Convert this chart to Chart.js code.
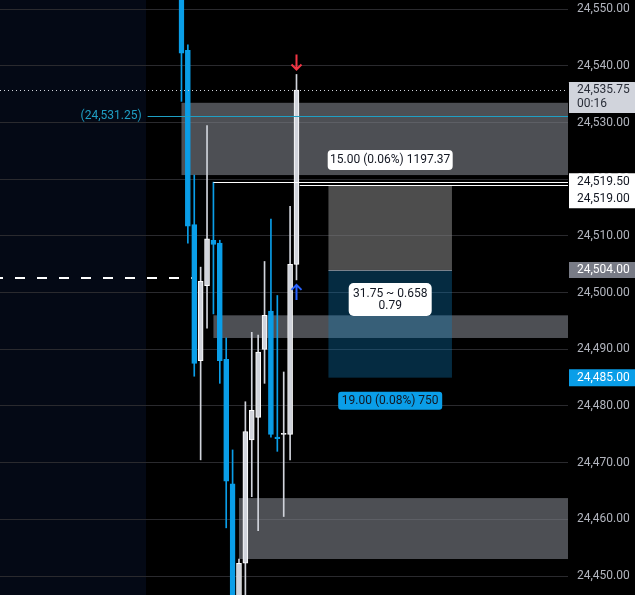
<!DOCTYPE html>
<html>
<head>
<meta charset="utf-8">
<script src="https://cdn.jsdelivr.net/npm/chart.js@4.4.0/dist/chart.umd.min.js"></script>
<style>
html, body { margin: 0; padding: 0; background: #000; }
canvas { display: block; }
</style>
</head>
<body>
<canvas id="myChart" width="635" height="595"></canvas>
<script>
// Candles (bar index 0 = first bar on screen)
var barIndex = [0, 1, 2, 3, 4, 5, 6, 7, 8, 9, 10, 11, 12, 13, 14, 15, 16, 17, 18];
var opens  = [24557, 24542.75, 24512, 24488, 24501.25, 24509.25, 24508.75, 24488.25, 24466.25, 24441, 24452.25, 24474, 24478, 24490, 24496.75, 24474.5, 24475, 24475, 24505];
var highs  = [24560, 24543.75, 24520.75, 24504.5, 24529.5, 24519.5, 24509.25, 24492, 24472.25, 24453, 24480.75, 24493, 24492.5, 24505.5, 24513, 24499.5, 24486, 24515.25, 24538.5];
var lows   = [24533.75, 24508.75, 24485.25, 24470.5, 24493.75, 24496.25, 24484, 24458.5, 24438, 24438, 24445, 24464, 24458, 24484, 24474.5, 24472, 24460.5, 24470.5, 24502.25];
var closes = [24542.25, 24511.75, 24487.5, 24502, 24509.5, 24508.5, 24488, 24466.75, 24440, 24452.25, 24475.5, 24479.25, 24489.5, 24496, 24475, 24474.25, 24475, 24505, 24535.75];

// price axis
var yTicksStep = 10;

// supply / demand zones
var zoneTops    = [24533.5, 24496, 24463.75];
var zoneBottoms = [24520.75, 24492, 24453];
var zoneStarts  = [0, 5, 9];

// short position tool
var stopPrice = 24519;
var entryPrice = 24504;
var targetPrice = 24485;
var positionFrom = 23;
var positionTo = 42.33;
var positionLabels = ['15.00 (0.06%) 1197.37', '31.75 ~ 0.658', '0.79', '19.00 (0.08%) 750'];

// horizontal lines
var lastPrice = 24535.75;
var barTimer = '00:16';
var markedPrice = 24531.25;
var markedFrom = -5.3;
var highRayPrice = 24519.5;
var highRayFrom = 5;
var lowRayPrice = 24519;
var lowRayFrom = 18.5;
var dashedPrice = 24502.5;
var dashedTo = 1.6;
var sessionEnd = -5.55;
var signalBar = 18;

var BLUE = '#0a9ee8';
var WHITE_BODY = '#d1d4dc';

function fmt(v) {
    return v.toLocaleString('en-US', { minimumFractionDigits: 2, maximumFractionDigits: 2 });
}

var bodies = [], wicks = [], bodyFill = [], bodyEdge = [], wickColor = [];
for (var i = 0; i < barIndex.length; i++) {
    var up = closes[i] >= opens[i];
    bodies.push({ x: barIndex[i], y: [opens[i], closes[i]] });
    wicks.push({ x: barIndex[i], y: [lows[i], highs[i]] });
    bodyFill.push(up ? WHITE_BODY : BLUE);
    bodyEdge.push(up ? '#ffffff' : BLUE);
    wickColor.push(up ? WHITE_BODY : BLUE);
}

function tag(ctx, x, y, w, h, r, bg) {
    ctx.fillStyle = bg;
    ctx.beginPath();
    ctx.moveTo(x + r, y);
    ctx.arcTo(x + w, y, x + w, y + h, r);
    ctx.arcTo(x + w, y + h, x, y + h, r);
    ctx.arcTo(x, y + h, x, y, r);
    ctx.arcTo(x, y, x + w, y, r);
    ctx.closePath();
    ctx.fill();
}

function hline(ctx, x1, x2, y, color, width, dash, offset) {
    ctx.save();
    ctx.strokeStyle = color;
    ctx.lineWidth = width;
    ctx.setLineDash(dash || []);
    ctx.lineDashOffset = offset || 0;
    var yy = width % 2 ? Math.round(y) + 0.5 : Math.round(y);
    ctx.beginPath();
    ctx.moveTo(x1, yy);
    ctx.lineTo(x2, yy);
    ctx.stroke();
    ctx.restore();
}

function arrow(ctx, x, tip, dir, color) {
    ctx.save();
    ctx.strokeStyle = color;
    ctx.lineWidth = 2;
    ctx.beginPath();
    ctx.moveTo(x, tip - dir * 15);
    ctx.lineTo(x, tip);
    ctx.moveTo(x - 5, tip - dir * 5);
    ctx.lineTo(x, tip);
    ctx.lineTo(x + 5, tip - dir * 5);
    ctx.stroke();
    ctx.restore();
}

var overlay = {
    id: 'overlay',
    beforeDraw: function (chart) {
        var ctx = chart.ctx, a = chart.chartArea, xs = chart.scales.x;
        ctx.save();
        ctx.fillStyle = '#000000';
        ctx.fillRect(0, 0, chart.width, chart.height);
        ctx.fillStyle = '#040915';
        ctx.fillRect(a.left, a.top, xs.getPixelForValue(sessionEnd) - a.left, a.bottom - a.top);
        ctx.restore();
    },
    beforeDatasetsDraw: function (chart) {
        var ctx = chart.ctx, a = chart.chartArea, xs = chart.scales.x, ys = chart.scales.y;
        ctx.save();
        ctx.beginPath();
        ctx.rect(a.left, a.top, a.right - a.left, a.bottom - a.top);
        ctx.clip();
        // zones
        ctx.fillStyle = 'rgba(125,127,135,0.62)';
        for (var i = 0; i < zoneTops.length; i++) {
            var x0 = xs.getPixelForValue(zoneStarts[i]);
            var t = ys.getPixelForValue(zoneTops[i]), b = ys.getPixelForValue(zoneBottoms[i]);
            ctx.fillRect(x0, t, a.right - x0, b - t);
        }
        // position box
        var p0 = xs.getPixelForValue(positionFrom), p1 = xs.getPixelForValue(positionTo);
        var yS = ys.getPixelForValue(stopPrice), yE = ys.getPixelForValue(entryPrice), yT = ys.getPixelForValue(targetPrice);
        ctx.fillStyle = 'rgba(128,128,128,0.6)';
        ctx.fillRect(p0, yS, p1 - p0, yE - yS);
        ctx.fillStyle = 'rgba(15,125,190,0.34)';
        ctx.fillRect(p0, yE, p1 - p0, yT - yE);
        hline(ctx, p0, p1, yE, 'rgba(150,152,160,0.8)', 1);
        ctx.restore();
    },
    afterDatasetsDraw: function (chart) {
        var ctx = chart.ctx, a = chart.chartArea, xs = chart.scales.x, ys = chart.scales.y;
        hline(ctx, a.left, a.right, ys.getPixelForValue(lastPrice), '#d1d4dc', 1, [1, 3]);
        hline(ctx, xs.getPixelForValue(markedFrom), a.right, ys.getPixelForValue(markedPrice), '#1f9fc4', 1);
        hline(ctx, xs.getPixelForValue(highRayFrom), a.right, ys.getPixelForValue(highRayPrice), '#ffffff', 1);
        hline(ctx, xs.getPixelForValue(lowRayFrom), a.right, ys.getPixelForValue(lowRayPrice), '#ffffff', 1);
        hline(ctx, a.left, xs.getPixelForValue(dashedTo), ys.getPixelForValue(dashedPrice), '#ffffff', 2, [10, 12], 7);
    },
    afterDraw: function (chart) {
        var ctx = chart.ctx, a = chart.chartArea, xs = chart.scales.x, ys = chart.scales.y;
        ctx.save();
        ctx.font = '12px Roboto';
        ctx.textBaseline = 'middle';

        // marked level text
        ctx.fillStyle = '#1f9fc4';
        ctx.textAlign = 'right';
        ctx.fillText('(' + fmt(markedPrice) + ')', xs.getPixelForValue(markedFrom) - 6, ys.getPixelForValue(markedPrice));

        // arrows on the signal bar
        var sx = xs.getPixelForValue(signalBar);
        arrow(ctx, sx, ys.getPixelForValue(highs[signalBar]) - 5, 1, '#f23645');
        arrow(ctx, sx, ys.getPixelForValue(lows[signalBar]) + 5, -1, '#2962ff');

        // position labels
        var cx = (xs.getPixelForValue(positionFrom) + xs.getPixelForValue(positionTo)) / 2;
        var yS = ys.getPixelForValue(stopPrice), yE = ys.getPixelForValue(entryPrice), yT = ys.getPixelForValue(targetPrice);
        ctx.textAlign = 'center';
        tag(ctx, cx - 62.5, yS - 35, 125, 20, 4, '#ffffff');
        ctx.fillStyle = '#131722';
        ctx.fillText(positionLabels[0], cx, yS - 25);
        tag(ctx, cx - 41.5, yE + 13, 83, 33, 5, '#ffffff');
        ctx.fillStyle = '#131722';
        ctx.fillText(positionLabels[1], cx, yE + 24);
        ctx.fillText(positionLabels[2], cx, yE + 36);
        tag(ctx, cx - 52, yT + 14, 104, 18, 3, BLUE);
        ctx.fillStyle = '#131722';
        ctx.fillText(positionLabels[3], cx, yT + 23);

        // price scale tags
        var rx = a.right, rw = chart.width - a.right, tx = a.right + 9;
        ctx.textAlign = 'left';
        var yL = ys.getPixelForValue(lastPrice);
        tag(ctx, rx + 1, yL - 8, rw - 1, 31, 0.1, '#d1d4dc');
        ctx.fillStyle = '#2a2e39';
        ctx.fillText(fmt(lastPrice), tx, yL);
        ctx.fillText(barTimer, tx, yL + 14);

        var yH = ys.getPixelForValue(highRayPrice);
        tag(ctx, rx + 1, yH - 9, rw - 1, 35, 0.1, '#ffffff');
        ctx.fillStyle = '#131722';
        ctx.fillText(fmt(highRayPrice), tx, yH);
        ctx.fillText(fmt(lowRayPrice), tx, yH + 17);

        tag(ctx, rx + 1, yE - 8, rw - 1, 16, 0.1, '#787b86');
        ctx.fillStyle = '#ffffff';
        ctx.fillText(fmt(entryPrice), tx, yE);

        tag(ctx, rx + 1, yT - 8.5, rw - 1, 17, 0.1, BLUE);
        ctx.fillStyle = '#ffffff';
        ctx.fillText(fmt(targetPrice), tx, yT);
        ctx.restore();
    }
};

Chart.defaults.font.family = 'Roboto';

var ctx = document.getElementById('myChart').getContext('2d');
var myChart = new Chart(ctx, {
    type: 'bar',
    data: {
        datasets: [{
            label: 'body',
            data: bodies,
            backgroundColor: bodyFill,
            borderColor: bodyEdge,
            borderWidth: 1,
            borderSkipped: false,
            barThickness: 5,
            minBarLength: 1,
            grouped: false,
            order: 0
        }, {
            label: 'wick',
            data: wicks,
            backgroundColor: wickColor,
            borderWidth: 0,
            barThickness: 1,
            grouped: false,
            order: 1
        }]
    },
    options: {
        responsive: false,
        animation: false,
        layout: { padding: 0 },
        plugins: { legend: { display: false }, tooltip: { enabled: false } },
        scales: {
            x: {
                type: 'linear',
                display: false,
                offset: false,
                min: -28.4,
                max: 60.49
            },
            y: {
                position: 'right',
                min: 24446.65,
                max: 24551.64,
                afterFit: function (s) {
                    s.width = 67;
                    s.paddingTop = 0;
                    s.paddingBottom = 0;
                },
                grid: { color: '#2a2a2e', drawTicks: false },
                border: { display: false },
                ticks: {
                    stepSize: yTicksStep,
                    includeBounds: false,
                    padding: 9,
                    color: '#b2b5be',
                    font: { family: 'Roboto', size: 12 },
                    callback: function (v) { return fmt(v); }
                }
            }
        }
    },
    plugins: [overlay]
});
</script>
</body>
</html>
